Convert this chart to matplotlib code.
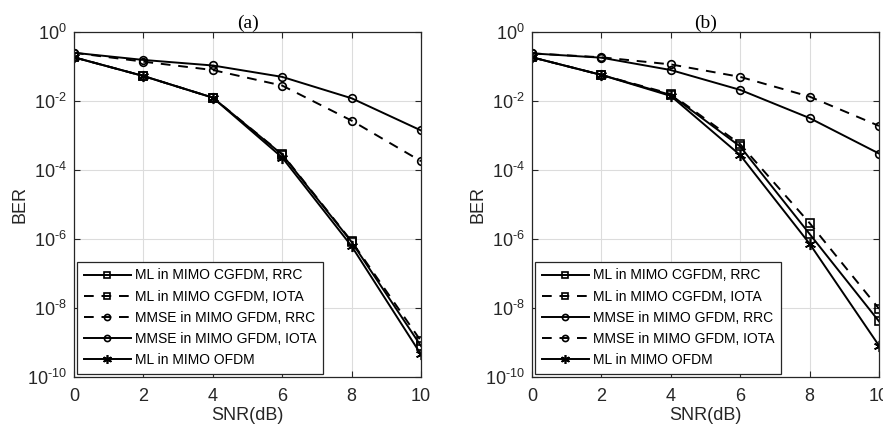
import matplotlib
matplotlib.use("Agg")
import matplotlib.pyplot as plt
import numpy as np

snr = [0, 2, 4, 6, 8, 10]

# Panel (a)
a_ml_cgfdm_rrc = [0.185, 0.053, 0.0125, 2.8e-4, 8.2e-7, 7.9e-10]
a_ml_cgfdm_iota = [0.185, 0.053, 0.0125, 2.9e-4, 8.6e-7, 1.1e-9]
a_mmse_gfdm_rrc = [0.25, 0.138, 0.079, 0.028, 0.0027, 1.8e-4]
a_mmse_gfdm_iota = [0.25, 0.155, 0.107, 0.05, 0.012, 0.0014]
a_ml_ofdm = [0.185, 0.053, 0.0125, 2.3e-4, 6.2e-7, 4.5e-10]

# Panel (b)
b_ml_cgfdm_rrc = [0.185, 0.057, 0.015, 4.8e-4, 1.4e-6, 4.1e-9]
b_ml_cgfdm_iota = [0.185, 0.057, 0.016, 5.6e-4, 2.9e-6, 9.5e-9]
b_mmse_gfdm_rrc = [0.24, 0.18, 0.079, 0.021, 0.0032, 3.0e-4]
b_mmse_gfdm_iota = [0.24, 0.185, 0.115, 0.05, 0.0134, 0.0019]
b_ml_ofdm = [0.185, 0.057, 0.014, 2.7e-4, 7.3e-7, 8.1e-10]

labels = ["ML in MIMO CGFDM, RRC", "ML in MIMO CGFDM, IOTA",
          "MMSE in MIMO GFDM, RRC", "MMSE in MIMO GFDM, IOTA", "ML in MIMO OFDM"]
yticks = [1e0, 1e-2, 1e-4, 1e-6, 1e-8, 1e-10]
ytick_labels = [r"$10^{0}$", r"$10^{\text{-}2}$", r"$10^{\text{-}4}$", r"$10^{\text{-}6}$",
                r"$10^{\text{-}8}$", r"$10^{\text{-}10}$"]

plt.rcParams['font.family'] = ['Liberation Sans', 'DejaVu Sans']
plt.rcParams['mathtext.fontset'] = 'custom'
plt.rcParams['mathtext.rm'] = 'Liberation Sans'
plt.rcParams['mathtext.it'] = 'Liberation Sans'

fig = plt.figure(figsize=(8.83, 4.26), dpi=100)
W, H = 883, 426

def make_ax(left_px, right_px, title, series, styles):
    ax = fig.add_axes([left_px / W, (H - 377) / H, (right_px - left_px) / W, (377 - 32) / H])
    for data, lab, (ls, mk) in zip(series, labels, styles):
        ms = 8 if mk != 's' and mk != 'o' else 5.5
        ax.semilogy(snr, data, color='black', linestyle=ls, marker=mk, mfc='none',
                    mec='black', markersize=ms, linewidth=1.4, markeredgewidth=1.2,
                    label=lab, dashes=(5, 4) if ls == '--' else (None, None))
    ax.set_xlim(0, 10)
    ax.set_ylim(1e-10, 1)
    ax.set_xticks([0, 2, 4, 6, 8, 10])
    ax.set_yticks(yticks)
    ax.set_yticklabels(ytick_labels)
    ax.minorticks_off()
    ax.grid(True, color='#dcdcdc', linewidth=0.8)
    ax.set_axisbelow(True)
    ax.tick_params(direction='in', length=4, labelsize=13, colors='#262626', top=True, right=True, pad=5)
    ax.tick_params(axis='x', pad=8)
    for s in ax.spines.values():
        s.set_color('#262626')
        s.set_linewidth(0.9)
    ax.set_xlabel("SNR(dB)", fontsize=13, color='#262626', labelpad=1)
    ax.set_ylabel("BER", fontsize=13, color='#262626', labelpad=-1)
    ax.set_title(title, fontsize=14, family='Liberation Serif', pad=3)
    leg = ax.legend(loc='lower left', fontsize=10, handlelength=3.4, borderaxespad=0.25,
                    fancybox=False, edgecolor='#262626', framealpha=1,
                    labelspacing=0.52, borderpad=0.45, handletextpad=0.3, markerscale=0.8)
    leg.get_frame().set_linewidth(0.9)
    return ax

styles_a = [('-', 's'), ('--', 's'), ('--', 'o'), ('-', 'o'), ('-', (6, 2, 0))]
styles_b = [('-', 's'), ('--', 's'), ('-', 'o'), ('--', 'o'), ('-', (6, 2, 0))]

make_ax(74, 421, "(a)", [a_ml_cgfdm_rrc, a_ml_cgfdm_iota, a_mmse_gfdm_rrc, a_mmse_gfdm_iota, a_ml_ofdm], styles_a)
make_ax(532, 879, "(b)", [b_ml_cgfdm_rrc, b_ml_cgfdm_iota, b_mmse_gfdm_rrc, b_mmse_gfdm_iota, b_ml_ofdm], styles_b)

fig.savefig("out.png", dpi=100)
